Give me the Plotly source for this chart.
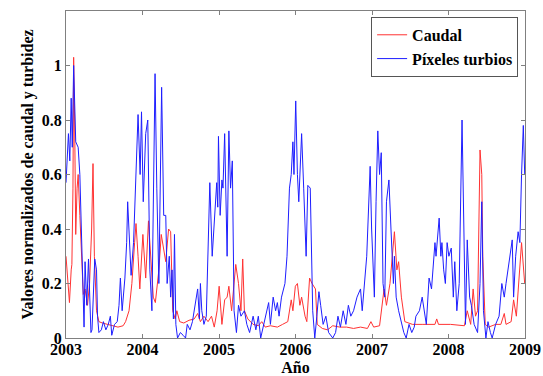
import plotly.graph_objects as go

# Caudal (red) — decimal year, normalized value
caudal_t = [2003.000, 2003.023, 2003.045, 2003.068, 2003.077, 2003.091, 2003.100, 2003.113, 2003.127, 2003.145,
            2003.159, 2003.181, 2003.204, 2003.226, 2003.249, 2003.281, 2003.308, 2003.335, 2003.353, 2003.371,
            2003.399, 2003.430, 2003.476, 2003.543, 2003.634, 2003.679, 2003.747, 2003.779, 2003.824, 2003.861,
            2003.897, 2003.915, 2003.942, 2003.965, 2004.005, 2004.042, 2004.078, 2004.096, 2004.141, 2004.168,
            2004.214, 2004.245, 2004.277, 2004.304, 2004.341, 2004.368, 2004.395, 2004.427, 2004.449, 2004.486,
            2004.540, 2004.608, 2004.676, 2004.721, 2004.757, 2004.803, 2004.857, 2004.902, 2004.938, 2004.975,
            2005.002, 2005.038, 2005.074, 2005.106, 2005.129, 2005.165, 2005.219, 2005.255, 2005.287, 2005.310,
            2005.332, 2005.377, 2005.446, 2005.514, 2005.559, 2005.604, 2005.672, 2005.763, 2005.831, 2005.899,
            2005.944, 2005.966, 2005.998, 2006.025, 2006.057, 2006.080, 2006.125, 2006.148, 2006.184, 2006.216,
            2006.261, 2006.284, 2006.351, 2006.419, 2006.487, 2006.578, 2006.668, 2006.759, 2006.850, 2006.940,
            2006.986, 2007.022, 2007.099, 2007.121, 2007.158, 2007.189, 2007.235, 2007.293, 2007.325, 2007.348,
            2007.384, 2007.429, 2007.529, 2007.665, 2007.823, 2007.846, 2007.869, 2008.027, 2008.208, 2008.245,
            2008.290, 2008.322, 2008.353, 2008.380, 2008.399, 2008.412, 2008.435, 2008.448, 2008.480, 2008.525,
            2008.616, 2008.684, 2008.729, 2008.752, 2008.819, 2008.851, 2008.887, 2008.955, 2008.996]
caudal_v = [0.30, 0.20, 0.13, 0.25, 0.27, 0.55, 1.03, 0.80, 0.38, 0.55,
            0.60, 0.45, 0.30, 0.16, 0.18, 0.12, 0.20, 0.40, 0.64, 0.30,
            0.10, 0.06, 0.055, 0.05, 0.045, 0.04, 0.045, 0.06, 0.10, 0.20,
            0.35, 0.42, 0.30, 0.18, 0.38, 0.22, 0.43, 0.35, 0.15, 0.13,
            0.25, 0.38, 0.33, 0.28, 0.40, 0.39, 0.10, 0.07, 0.10, 0.06,
            0.055, 0.065, 0.07, 0.09, 0.06, 0.08, 0.06, 0.08, 0.04, 0.10,
            0.19, 0.05, 0.14, 0.15, 0.19, 0.10, 0.27, 0.20, 0.10, 0.29,
            0.10, 0.07, 0.05, 0.045, 0.06, 0.04, 0.045, 0.04, 0.05, 0.06,
            0.14, 0.10, 0.19, 0.20, 0.12, 0.15, 0.08, 0.06, 0.22, 0.20,
            0.18, 0.05, 0.035, 0.03, 0.045, 0.04, 0.04, 0.035, 0.04, 0.035,
            0.06, 0.04, 0.045, 0.10, 0.18, 0.12, 0.20, 0.39, 0.25, 0.28,
            0.15, 0.06, 0.05, 0.05, 0.05, 0.07, 0.05, 0.05, 0.045, 0.10,
            0.05, 0.18, 0.08, 0.10, 0.50, 0.69, 0.60, 0.30, 0.05, 0.04,
            0.05, 0.05, 0.09, 0.05, 0.06, 0.14, 0.08, 0.35, 0.20]

# Píxeles turbios (blue) — decimal year, normalized value
turb_t = [2003.000, 2003.032, 2003.050, 2003.068, 2003.082, 2003.100, 2003.127, 2003.159, 2003.181, 2003.195,
          2003.217, 2003.236, 2003.249, 2003.272, 2003.294, 2003.326, 2003.340, 2003.362, 2003.376, 2003.399,
          2003.412, 2003.430, 2003.462, 2003.489, 2003.521, 2003.553, 2003.580, 2003.598, 2003.634, 2003.670,
          2003.693, 2003.711, 2003.734, 2003.770, 2003.793, 2003.806, 2003.824, 2003.851, 2003.883, 2003.915,
          2003.942, 2003.969, 2003.987, 2004.010, 2004.042, 2004.069, 2004.096, 2004.123, 2004.146, 2004.164,
          2004.187, 2004.214, 2004.250, 2004.277, 2004.304, 2004.322, 2004.350, 2004.368, 2004.386, 2004.404,
          2004.418, 2004.436, 2004.458, 2004.495, 2004.531, 2004.563, 2004.585, 2004.621, 2004.653, 2004.698,
          2004.721, 2004.744, 2004.757, 2004.775, 2004.803, 2004.834, 2004.880, 2004.911, 2004.947, 2004.970,
          2004.984, 2004.993, 2005.015, 2005.038, 2005.052, 2005.074, 2005.106, 2005.129, 2005.151, 2005.174,
          2005.197, 2005.228, 2005.255, 2005.287, 2005.332, 2005.364, 2005.400, 2005.446, 2005.482, 2005.514,
          2005.545, 2005.582, 2005.627, 2005.649, 2005.672, 2005.708, 2005.740, 2005.763, 2005.785, 2005.817,
          2005.862, 2005.889, 2005.921, 2005.944, 2005.966, 2005.980, 2006.003, 2006.025, 2006.043, 2006.080,
          2006.107, 2006.125, 2006.139, 2006.161, 2006.193, 2006.225, 2006.252, 2006.279, 2006.306, 2006.329,
          2006.361, 2006.397, 2006.433, 2006.487, 2006.524, 2006.555, 2006.587, 2006.623, 2006.659, 2006.691,
          2006.723, 2006.759, 2006.804, 2006.850, 2006.872, 2006.931, 2006.976, 2006.995, 2007.013, 2007.031,
          2007.053, 2007.076, 2007.099, 2007.121, 2007.144, 2007.167, 2007.189, 2007.221, 2007.248, 2007.280,
          2007.293, 2007.316, 2007.348, 2007.384, 2007.416, 2007.447, 2007.484, 2007.520, 2007.552, 2007.574,
          2007.620, 2007.656, 2007.688, 2007.710, 2007.746, 2007.778, 2007.823, 2007.837, 2007.878, 2007.900,
          2007.914, 2007.937, 2007.959, 2007.982, 2008.005, 2008.036, 2008.063, 2008.082, 2008.109, 2008.140,
          2008.177, 2008.208, 2008.222, 2008.245, 2008.276, 2008.299, 2008.335, 2008.380, 2008.412, 2008.435,
          2008.457, 2008.489, 2008.516, 2008.548, 2008.571, 2008.616, 2008.661, 2008.697, 2008.729, 2008.752,
          2008.797, 2008.833, 2008.851, 2008.878, 2008.910, 2008.933, 2008.955, 2008.978, 2008.996]
turb_v = [0.57, 0.75, 0.65, 0.88, 0.70, 1.00, 0.72, 0.70, 0.60, 0.45,
          0.15, 0.04, 0.28, 0.12, 0.29, 0.02, 0.03, 0.17, 0.29, 0.25,
          0.08, 0.02, 0.03, 0.06, 0.03, 0.05, 0.08, 0.01, 0.05, 0.06,
          0.12, 0.22, 0.10, 0.22, 0.35, 0.50, 0.40, 0.23, 0.35, 0.60,
          0.82, 0.60, 0.83, 0.50, 0.75, 0.80, 0.25, 0.10, 0.50, 0.97,
          0.55, 0.20, 0.92, 0.45, 0.45, 0.20, 0.30, 0.15, 0.25, 0.07,
          0.38, 0.05, 0.00, 0.02, 0.01, 0.00, 0.05, 0.03, 0.06, 0.15,
          0.18, 0.07, 0.20, 0.10, 0.05, 0.08, 0.57, 0.30, 0.45, 0.57,
          0.48, 0.74, 0.45, 0.58, 0.55, 0.75, 0.30, 0.76, 0.55, 0.65,
          0.10, 0.02, 0.12, 0.08, 0.10, 0.05, 0.02, 0.08, 0.03, 0.08,
          0.00, 0.05, 0.10, 0.13, 0.05, 0.15, 0.10, 0.13, 0.08, 0.15,
          0.20, 0.30, 0.55, 0.60, 0.72, 0.60, 0.87, 0.60, 0.50, 0.75,
          0.55, 0.40, 0.30, 0.56, 0.55, 0.10, 0.00, 0.08, 0.17, 0.12,
          0.05, 0.08, 0.02, 0.00, 0.02, 0.08, 0.04, 0.10, 0.05, 0.12,
          0.08, 0.10, 0.15, 0.18, 0.10, 0.30, 0.63, 0.40, 0.25, 0.15,
          0.50, 0.76, 0.60, 0.68, 0.20, 0.15, 0.50, 0.58, 0.40, 0.20,
          0.30, 0.15, 0.10, 0.06, 0.02, 0.00, 0.05, 0.02, 0.04, 0.08,
          0.10, 0.15, 0.10, 0.05, 0.22, 0.18, 0.35, 0.30, 0.44, 0.30,
          0.35, 0.25, 0.20, 0.35, 0.30, 0.33, 0.15, 0.28, 0.10, 0.20,
          0.80, 0.20, 0.05, 0.36, 0.15, 0.12, 0.05, 0.02, 0.20, 0.50,
          0.10, 0.00, 0.06, 0.02, 0.00, 0.05, 0.08, 0.20, 0.15, 0.20,
          0.30, 0.36, 0.15, 0.30, 0.39, 0.35, 0.60, 0.78, 0.60]

year_ticks = [2003, 2004, 2005, 2006, 2007, 2008, 2009]
y_ticks = [0, 0.2, 0.4, 0.6, 0.8, 1]
y_ticktext = ["0", "0.2", "0.4", "0.6", "0.8", "1"]

FONT = "Liberation Serif"
FS = 16

fig = go.Figure()
fig.add_trace(go.Scatter(x=caudal_t, y=caudal_v, mode="lines", name="Caudal",
                         line=dict(color="rgb(255,50,50)", width=1)))
fig.add_trace(go.Scatter(x=turb_t, y=turb_v, mode="lines", name="Píxeles turbios",
                         line=dict(color="rgb(30,30,255)", width=1)))

axis_common = dict(showline=True, linecolor="#808080", linewidth=1, mirror="ticks",
                   ticks="inside", ticklen=4, tickcolor="#808080", showgrid=False,
                   zeroline=False, automargin=False,
                   tickfont=dict(family=FONT, size=FS, color="black", weight="bold"))

fig.update_layout(
    width=543, height=376,
    margin=dict(l=66, r=18, t=11, b=38),
    paper_bgcolor="white", plot_bgcolor="white",
    xaxis=dict(range=[2003, 2009], tickvals=year_ticks,
               ticktext=[str(y) for y in year_ticks], ticklabelstandoff=-3,
               title=dict(text="Año", font=dict(family=FONT, size=FS, color="black", weight="bold"),
                          standoff=4),
               **axis_common),
    yaxis=dict(range=[0, 1.2], tickvals=y_ticks, ticktext=y_ticktext,
               title=dict(text="Valores normalizados de caudal y turbidez",
                          font=dict(family=FONT, size=FS, color="black", weight="bold"),
                          standoff=4),
               **axis_common),
    legend=dict(x=0.985, y=0.982, xanchor="right", yanchor="top",
                bgcolor="white", bordercolor="#555555", borderwidth=1,
                font=dict(family=FONT, size=FS, color="black", weight="bold"),
                tracegroupgap=0, itemwidth=30),
    showlegend=True,
)

fig.write_html("out.html", config={"displayModeBar": False},
               post_script="document.body.style.margin='0';")
